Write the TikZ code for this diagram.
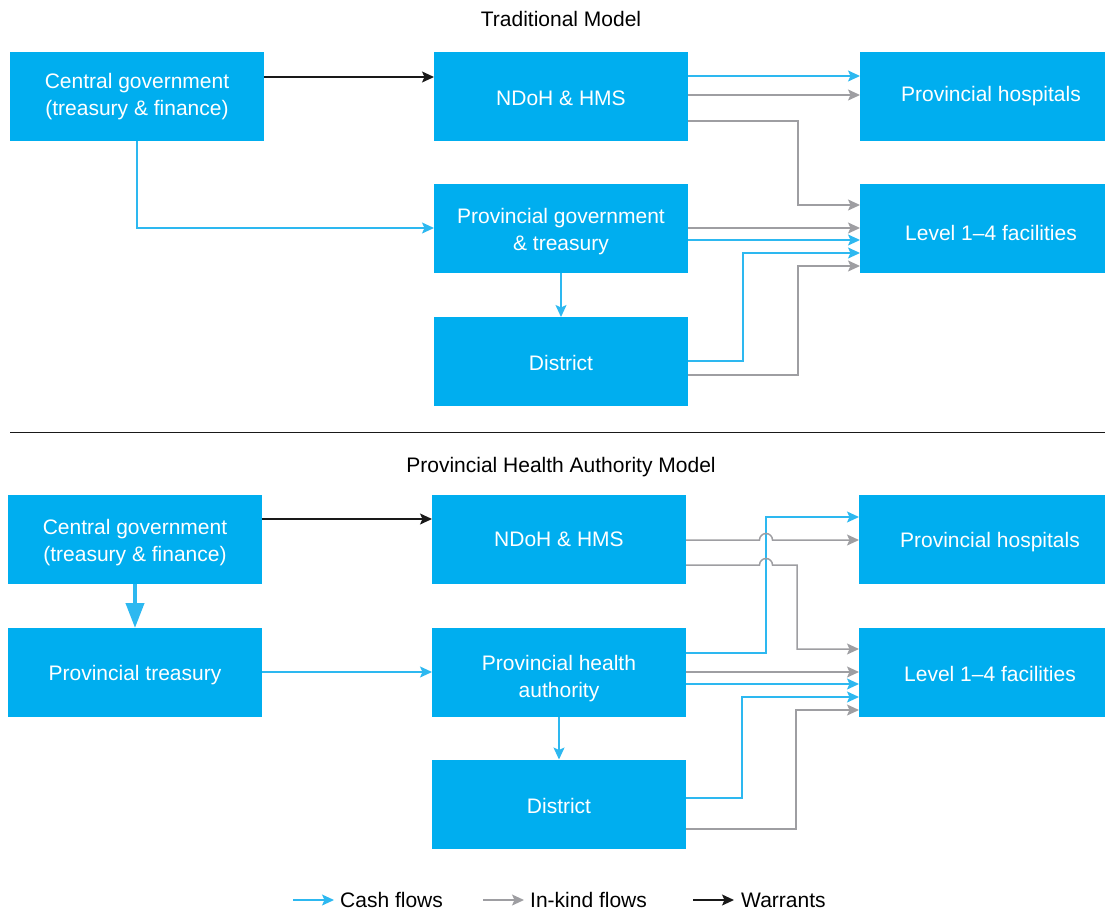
\documentclass[tikz,border=0pt]{standalone}
\usepackage{fontspec}
\setmainfont{Liberation Sans}
\usetikzlibrary{arrows.meta}
\definecolor{boxblue}{RGB}{0,174,239}
\definecolor{cashblue}{RGB}{45,184,240}
\definecolor{kindgray}{RGB}{158,158,162}
\definecolor{warrantblack}{RGB}{25,25,25}
\begin{document}
\begin{tikzpicture}[x=1pt,y=-1pt,
  font=\fontsize{21}{27}\selectfont,
  box/.style={fill=boxblue, draw=none, inner sep=0pt, outer sep=0pt,
    minimum width=254pt, minimum height=89pt},
  rbox/.style={box, minimum width=262pt},
  btext/.style={text=white, inner sep=0pt, align=center},
  tip/.style={-{Stealth[length=12pt,width=11pt,inset=2.5pt]}},
  cash/.style={tip, draw=cashblue, line width=1.5pt},
  kind/.style={tip, draw=kindgray, line width=1.5pt},
  warrant/.style={tip, draw=warrantblack, line width=1.3pt},
  title/.style={text=black, inner sep=0pt}
]
\useasboundingbox (0,0) rectangle (1105,913);

% ---------- Traditional model ----------
\node[title] (t1) at (561,19) {Traditional Model};
\node[box] (cg1) at (137,96.5) {};
\node[btext] (cg1t) at ([yshift=0pt]cg1.center) {Central government\\(treasury \& finance)};
\node[box] (nd1) at (561,96) {};
\node[btext] (nd1t) at ([yshift=-2pt]nd1.center) {NDoH \& HMS};
\node[rbox] (ph1) at (991,96) {};
\node[btext] (ph1t) at ([yshift=0pt]ph1.center) {Provincial hospitals};
\node[box] (pg1) at (561,228.5) {};
\node[btext] (pg1t) at ([yshift=-3pt]pg1.center) {Provincial government\\\& treasury};
\node[rbox] (lv1) at (991,228.5) {};
\node[btext] (lv1t) at ([yshift=-4pt]lv1.center) {Level 1--4 facilities};
\node[box] (di1) at (561,361.5) {};
\node[btext] (di1t) at ([yshift=-1pt]di1.center) {District};

\draw[warrant] (cg1.east |- 0,77) -- (nd1.west |- 0,77);
\draw[cash] (cg1.south) |- (pg1.west |- 0,228);
\draw[cash] (pg1.south) -- (di1.north);
\draw[cash] (nd1.east |- 0,76) -- (ph1.west |- 0,76);
\draw[kind] (nd1.east |- 0,95) -- (ph1.west |- 0,95);
\draw[kind] (nd1.east |- 0,121) -- (798,121) |- (lv1.west |- 0,205);
\draw[kind] (pg1.east |- 0,228) -- (lv1.west |- 0,228);
\draw[cash] (pg1.east |- 0,240) -- (lv1.west |- 0,240);
\draw[cash] (di1.east |- 0,361) -- (743,361) |- (lv1.west |- 0,253);
\draw[kind] (di1.east |- 0,375) -- (798,375) |- (lv1.west |- 0,266);

% separator
\coordinate (sepL) at (10,432);
\coordinate (sepR) at (1105,432);
\draw[line width=1pt, warrantblack] (sepL) -- (sepR);

% ---------- Provincial Health Authority model ----------
\node[title] (t2) at (561,467) {Provincial Health Authority Model};
\node[box] (cg2) at (135,539.5) {};
\node[btext] (cg2t) at ([yshift=-3pt]cg2.center) {Central government\\(treasury \& finance)};
\node[box] (pt2) at (135,672.5) {};
\node[btext] (pt2t) at ([yshift=-3pt]pt2.center) {Provincial treasury};
\node[box] (nd2) at (559,539) {};
\node[btext] (nd2t) at ([yshift=0pt]nd2.center) {NDoH \& HMS};
\node[rbox] (ph2) at (990,539) {};
\node[btext] (ph2t) at ([yshift=-3pt]ph2.center) {Provincial hospitals};
\node[box] (pa2) at (559,672.5) {};
\node[btext] (pa2t) at ([yshift=-6pt]pa2.center) {Provincial health\\authority};
\node[rbox] (lv2) at (990,672) {};
\node[btext] (lv2t) at ([yshift=-2pt]lv2.center) {Level 1--4 facilities};
\node[box] (di2) at (559,804) {};
\node[btext] (di2t) at ([yshift=-2pt]di2.center) {District};

\draw[warrant] (cg2.east |- 0,519) -- (nd2.west |- 0,519);
\draw[draw=cashblue, line width=4pt, -{Triangle[length=25pt,width=18pt]}] (cg2.south) -- (pt2.north);
\draw[cash] (pt2.east |- 0,672) -- (pa2.west |- 0,672);
\draw[cash] (pa2.south) -- (di2.north);
\draw[cash] (pa2.east |- 0,653) -- (766,653) |- (ph2.west |- 0,517);
\draw[kind] (nd2.east |- 0,540) -- (759.5,540) arc[start angle=180,end angle=0,radius=6.5pt] -- (ph2.west |- 0,540);
\draw[kind] (nd2.east |- 0,565) -- (759.5,565) arc[start angle=180,end angle=0,radius=6.5pt] -- (797,565) |- (lv2.west |- 0,649);
\draw[kind] (pa2.east |- 0,672) -- (lv2.west |- 0,672);
\draw[cash] (pa2.east |- 0,684) -- (lv2.west |- 0,684);
\draw[cash] (di2.east |- 0,798) -- (742,798) |- (lv2.west |- 0,697);
\draw[kind] (di2.east |- 0,829) -- (796,829) |- (lv2.west |- 0,710);

% ---------- Legend ----------
\coordinate (lc1) at (293,900);
\node[title, anchor=west] (lcash) at (340,900) {Cash flows};
\draw[cash, line width=1.3pt] (lc1) -- ([xshift=-6pt]lcash.west);
\coordinate (lk1) at (483,900);
\node[title, anchor=west] (lkind) at (530,900) {In-kind flows};
\draw[kind, line width=1.3pt] (lk1) -- ([xshift=-6pt]lkind.west);
\coordinate (lw1) at (693,900);
\node[title, anchor=west] (lwar) at (741,900) {Warrants};
\draw[warrant] (lw1) -- ([xshift=-7pt]lwar.west);
\end{tikzpicture}
\end{document}
